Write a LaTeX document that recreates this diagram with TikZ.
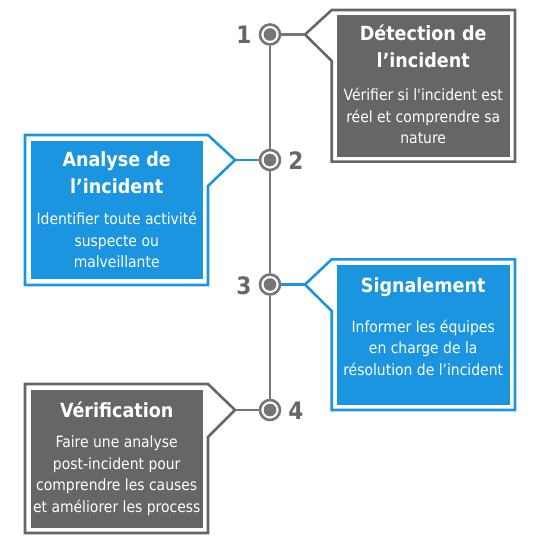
\documentclass[tikz,border=0pt]{standalone}
\usepackage{fontspec}
\setmainfont{DejaVu Sans Condensed}
\newfontfamily\plainf{DejaVu Sans Condensed}
\definecolor{gr}{HTML}{666666}
\definecolor{ln}{HTML}{767676}
\definecolor{bl}{HTML}{1B95E0}
\begin{document}
\begin{tikzpicture}[x=1pt,y=-1pt,
  dot/.style={circle,draw=ln,line width=2.6pt,fill=white,minimum size=20pt,inner sep=0pt},
  num/.style={font=\plainf\fontsize{24}{28}\selectfont\bfseries,text=gr},
  frame/.style={line width=2.6pt,line join=miter},
  fillbox/.style={inner sep=0pt,draw=none},
  ttl/.style={font=\plainf\fontsize{19.5}{27}\selectfont\bfseries,text=white,align=center},
  dsc/.style={font=\plainf\fontsize{15.5}{21.5}\selectfont,text=white,align=center},
  conn/.style={line width=2.6pt}]
\useasboundingbox (0,0) rectangle (540,540);
% timeline circles
\node[dot] (c1) at (270,34.5) {};
\node[dot] (c2) at (270,160) {};
\node[dot] (c3) at (270,284.5) {};
\node[dot] (c4) at (270,410) {};
\draw[ln,line width=2.6pt] (c1) -- (c2);
\draw[ln,line width=2.6pt] (c2) -- (c3);
\draw[ln,line width=2.6pt] (c3) -- (c4);
\foreach \c in {c1,c2,c3,c4} \fill[ln] (\c) circle (6.3);
% numbers
\node[num] (n1) at (244,35) {1};
\node[num] (n2) at (296,161) {2};
\node[num] (n3) at (244,286) {3};
\node[num] (n4) at (296,411) {4};
% box 1
\coordinate (p1) at (305,34.5);
\draw[gr,frame] (331.7,10) -- (515,10) -- (515,161.7) -- (331.7,161.7) -- (331.7,61) -- (p1) -- cycle;
\node[fillbox,fill=gr,minimum width=173pt,minimum height=141.7pt] (b1) at (423.2,85.8) {};
\draw[ln,conn] (c1) -- (p1);
\node[ttl] (t1) at (423.2,46.5) {Détection de\\l’incident};
\node[dsc] (d1) at (423.2,116) {Vérifier si l'incident est\\réel et comprendre sa\\nature};
% box 2
\coordinate (p2) at (235,160);
\draw[bl,frame] (25,135) -- (208,135) -- (p2) -- (208,186) -- (208,285) -- (25,285) -- cycle;
\node[fillbox,fill=bl,minimum width=172pt,minimum height=138.3pt] (b2) at (116.7,209.9) {};
\draw[bl,conn] (p2) -- (c2);
\node[ttl] (t2) at (116.7,173) {Analyse de\\l’incident};
\node[dsc] (d2) at (116.7,240) {Identifier toute activité\\suspecte ou\\malveillante};
% box 3
\coordinate (p3) at (305,284.5);
\draw[bl,frame] (331.7,259.3) -- (515,259.3) -- (515,410) -- (331.7,410) -- (331.7,311) -- (p3) -- cycle;
\node[fillbox,fill=bl,minimum width=173pt,minimum height=140pt] (b3) at (423.2,335) {};
\draw[bl,conn] (c3) -- (p3);
\node[ttl] (t3) at (423.2,287) {Signalement};
\node[dsc] (d3) at (423.2,347.5) {Informer les équipes\\en charge de la\\résolution de l’incident};
% box 4
\coordinate (p4) at (235,410);
\draw[gr,frame] (25,384) -- (208,384) -- (p4) -- (208,437) -- (208,533) -- (25,533) -- cycle;
\node[fillbox,fill=gr,minimum width=172pt,minimum height=138pt] (b4) at (116.7,459) {};
\draw[ln,conn] (p4) -- (c4);
\node[ttl] (t4) at (116.7,410) {Vérification};
\node[dsc] (d4) at (116.7,475.5) {Faire une analyse\\post-incident pour\\comprendre les causes\\et améliorer les process};
\end{tikzpicture}
\end{document}
